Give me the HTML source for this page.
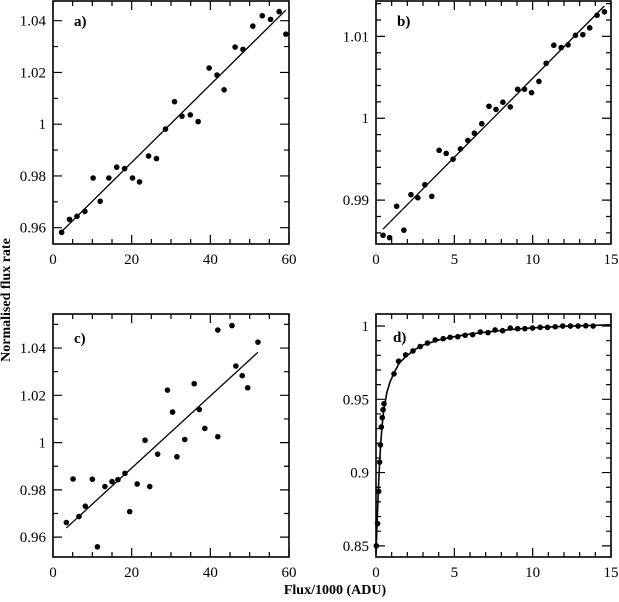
<!DOCTYPE html>
<html><head><meta charset="utf-8">
<style>
html,body{margin:0;padding:0;background:#fff;}
svg{display:block;font-family:"Liberation Serif","DejaVu Serif",serif;}
text{fill:#000;}
</style></head>
<body>
<svg id="fig" width="619" height="602" viewBox="0 0 619 602">
<text x="10" y="300" font-size="14" font-weight="bold" text-anchor="middle" transform="rotate(-90 10 300)">Normalised flux rate</text>
<text x="335" y="594" font-size="14" font-weight="bold" text-anchor="middle">Flux/1000 (ADU)</text>
</svg>
<script>
// Panel a
const aX=[2.2,4.2,6.1,8.1,10.2,12.0,14.2,16.2,18.2,20.2,22.0,24.3,26.3,28.6,30.9,32.8,34.9,36.9,39.7,41.7,43.5,46.3,48.3,50.8,53.2,55.3,57.5,59.2];
const aY=[0.9582,0.9632,0.9644,0.9663,0.9792,0.9702,0.9792,0.9834,0.9828,0.9792,0.9777,0.9877,0.9867,0.9981,1.0087,1.0031,1.0036,1.0010,1.0217,1.0190,1.0133,1.0298,1.0289,1.0379,1.0419,1.0405,1.0435,1.0348];
const aLineX=[2.2,59.2];
const aLineY=[0.9585,1.0441];
const aXTicks=[0,20,40,60];
const aXTickLabels=["0","20","40","60"];
const aYTicks=[0.96,0.98,1,1.02,1.04];
const aYTickLabels=["0.96","0.98","1","1.02","1.04"];
// Panel b
const bX=[0.45,0.87,1.32,1.78,2.23,2.67,3.12,3.56,4.03,4.48,4.92,5.39,5.86,6.28,6.75,7.21,7.66,8.1,8.57,9.04,9.48,9.93,10.4,10.86,11.35,11.82,12.26,12.73,13.2,13.64,14.11,14.58];
const bY=[0.98571,0.98542,0.98925,0.98633,0.99067,0.99029,0.99188,0.99046,0.99608,0.99571,0.995,0.99625,0.99729,0.99817,0.99933,1.00146,1.00108,1.00196,1.00138,1.00354,1.00354,1.00313,1.0045,1.00671,1.00892,1.00863,1.00896,1.01013,1.01021,1.01104,1.01258,1.013];
const bLineX=[0.45,14.58];
const bLineY=[0.98646,1.01371];
const bXTicks=[0,5,10,15];
const bXTickLabels=["0","5","10","15"];
const bYTicks=[0.99,1,1.01];
const bYTickLabels=["0.99","1","1.01"];
// Panel c
const cX=[3.4,5.1,6.6,8.2,10.0,11.3,13.2,15.0,16.5,18.3,19.5,21.4,23.4,24.6,26.6,29.1,30.4,31.5,33.5,35.9,37.2,38.6,41.9,41.9,45.5,46.5,48.1,49.5,52.1];
const cY=[0.9662,0.9846,0.9687,0.9731,0.9845,0.9559,0.9814,0.9835,0.9843,0.9870,0.9708,0.9825,1.0010,0.9814,0.9951,1.0222,1.0129,0.9940,1.0013,1.0249,1.0140,1.0060,1.0025,1.0476,1.0495,1.0324,1.0283,1.0232,1.0425];
const cLineX=[3.4,52.1];
const cLineY=[0.9639,1.0382];
const cXTicks=[0,20,40,60];
const cXTickLabels=["0","20","40","60"];
const cYTicks=[0.96,0.98,1,1.02,1.04];
const cYTickLabels=["0.96","0.98","1","1.02","1.04"];
// Panel d
const dX=[0.02,0.1,0.17,0.23,0.28,0.34,0.4,0.45,0.51,1.15,1.44,1.89,2.36,2.82,3.29,3.78,4.29,4.73,5.22,5.69,6.17,6.66,7.15,7.6,8.08,8.57,9.04,9.5,9.99,10.48,10.95,11.44,11.92,12.41,12.9,13.39,13.86];
const dY=[0.85,0.8652,0.8872,0.9071,0.9189,0.9311,0.9375,0.9429,0.947,0.9674,0.976,0.9803,0.983,0.986,0.9884,0.9905,0.9914,0.9923,0.9927,0.9937,0.9941,0.9959,0.9955,0.9973,0.9968,0.9986,0.9982,0.9982,0.9986,0.9991,0.9991,0.9995,1.0,1.0,1.0,1.0002,1.0];
const dCurveX=[0.0,0.05,0.1,0.2,0.3,0.4,0.5,0.7,0.9,1.2,1.5,2,2.5,3,4,5,6,7,8,10,12,13.5,15];
const dCurveY=[0.845,0.86,0.875,0.9,0.92,0.933,0.943,0.955,0.962,0.969,0.975,0.98,0.984,0.987,0.9905,0.9927,0.9945,0.9958,0.997,0.9988,0.9998,1.0003,1.0008];
const dXTicks=[0,5,10,15];
const dXTickLabels=["0","5","10","15"];
const dYTicks=[0.85,0.9,0.95,1];
const dYTickLabels=["0.85","0.9","0.95","1"];

const NS="http://www.w3.org/2000/svg";
const svg=document.getElementById('fig');
function mk(tag,attrs,parent){const e=document.createElementNS(NS,tag);for(const k in attrs)e.setAttribute(k,attrs[k]);(parent||svg).appendChild(e);return e;}

function panel(id,box,xr,yr,xMinor,yMinor,xT,xL,yT,yL,px,py,lx,ly,label,labPos,curve){
  const g=mk('g',{});
  
  
  const sx=v=>box.x0+(v-xr[0])/(xr[1]-xr[0])*(box.x1-box.x0);
  const sy=v=>box.y1-(v-yr[0])/(yr[1]-yr[0])*(box.y1-box.y0);
  const fr=mk('rect',{x:box.x0,y:box.y0,width:box.x1-box.x0,height:box.y1-box.y0,fill:'none',stroke:'#000','stroke-width':1.6},g);
  
  
  let d='';
  const eps=1e-9;
  for(let v=xr[0];v<=xr[1]+eps;v+=xMinor){
    const isMaj=xT.some(t=>Math.abs(t-v)<xMinor/10);const L=isMaj?9:5;const x=sx(v);
    d+=`M${x} ${box.y1}v${-L}M${x} ${box.y0}v${L}`;
  }
  for(let v=yr[0]-((yr[0]%yMinor)+yMinor)%yMinor+yMinor;v<=yr[1]+eps;v+=yMinor){
    if(v<yr[0]-eps)continue;
    const isMaj=yT.some(t=>Math.abs(t-v)<yMinor/10);const L=isMaj?9:5;const y=sy(v);
    d+=`M${box.x0} ${y}h${L}M${box.x1} ${y}h${-L}`;
  }
  const tp=mk('path',{d:d,stroke:'#000','stroke-width':1.2,fill:'none'},g);
  
  
  xT.forEach((t,i)=>{const tx=mk('text',{x:sx(t),y:box.y1+20,'font-size':15,'text-anchor':'middle'},g);tx.textContent=xL[i];
    
    });
  yT.forEach((t,i)=>{const tx=mk('text',{x:box.x0-7,y:sy(t)+5,'font-size':15,'text-anchor':'end'},g);tx.textContent=yL[i];
    
    });
  let pts=lx.map((v,i)=>sx(v)+','+sy(ly[i])).join(' ');
  const ln=mk('polyline',{points:pts,fill:'none',stroke:'#000','stroke-width':curve?1.6:1.3},g);
  
  
  px.forEach((v,i)=>{const c=mk('circle',{cx:sx(v),cy:sy(py[i]),r:2.8,fill:'#000'},g);
    
    });
  const lb=mk('text',{x:labPos[0],y:labPos[1],'font-size':15,'font-weight':'bold'},g);lb.textContent=label;
  
  
}
panel('a',{x0:53,x1:289,y0:1,y1:244},[0,60],[0.9537,1.0476],5,0.01,aXTicks,aXTickLabels,aYTicks,aYTickLabels,aX,aY,aLineX,aLineY,'a)',[74,26],false);
panel('b',{x0:376,x1:611,y0:1,y1:244},[0,15],[0.98464,1.01432],1,0.002,bXTicks,bXTickLabels,bYTicks,bYTickLabels,bX,bY,bLineX,bLineY,'b)',[397,26],false);
panel('c',{x0:53,x1:289,y0:314,y1:557},[0,60],[0.9516,1.0544],5,0.01,cXTicks,cXTickLabels,cYTicks,cYTickLabels,cX,cY,cLineX,cLineY,'c)',[74,343],false);
panel('d',{x0:376,x1:611,y0:314,y1:557},[0,15],[0.8424,1.0082],1,0.01,dXTicks,dXTickLabels,dYTicks,dYTickLabels,dX,dY,dCurveX,dCurveY,'d)',[393,342],true);
</script>
</body></html>
